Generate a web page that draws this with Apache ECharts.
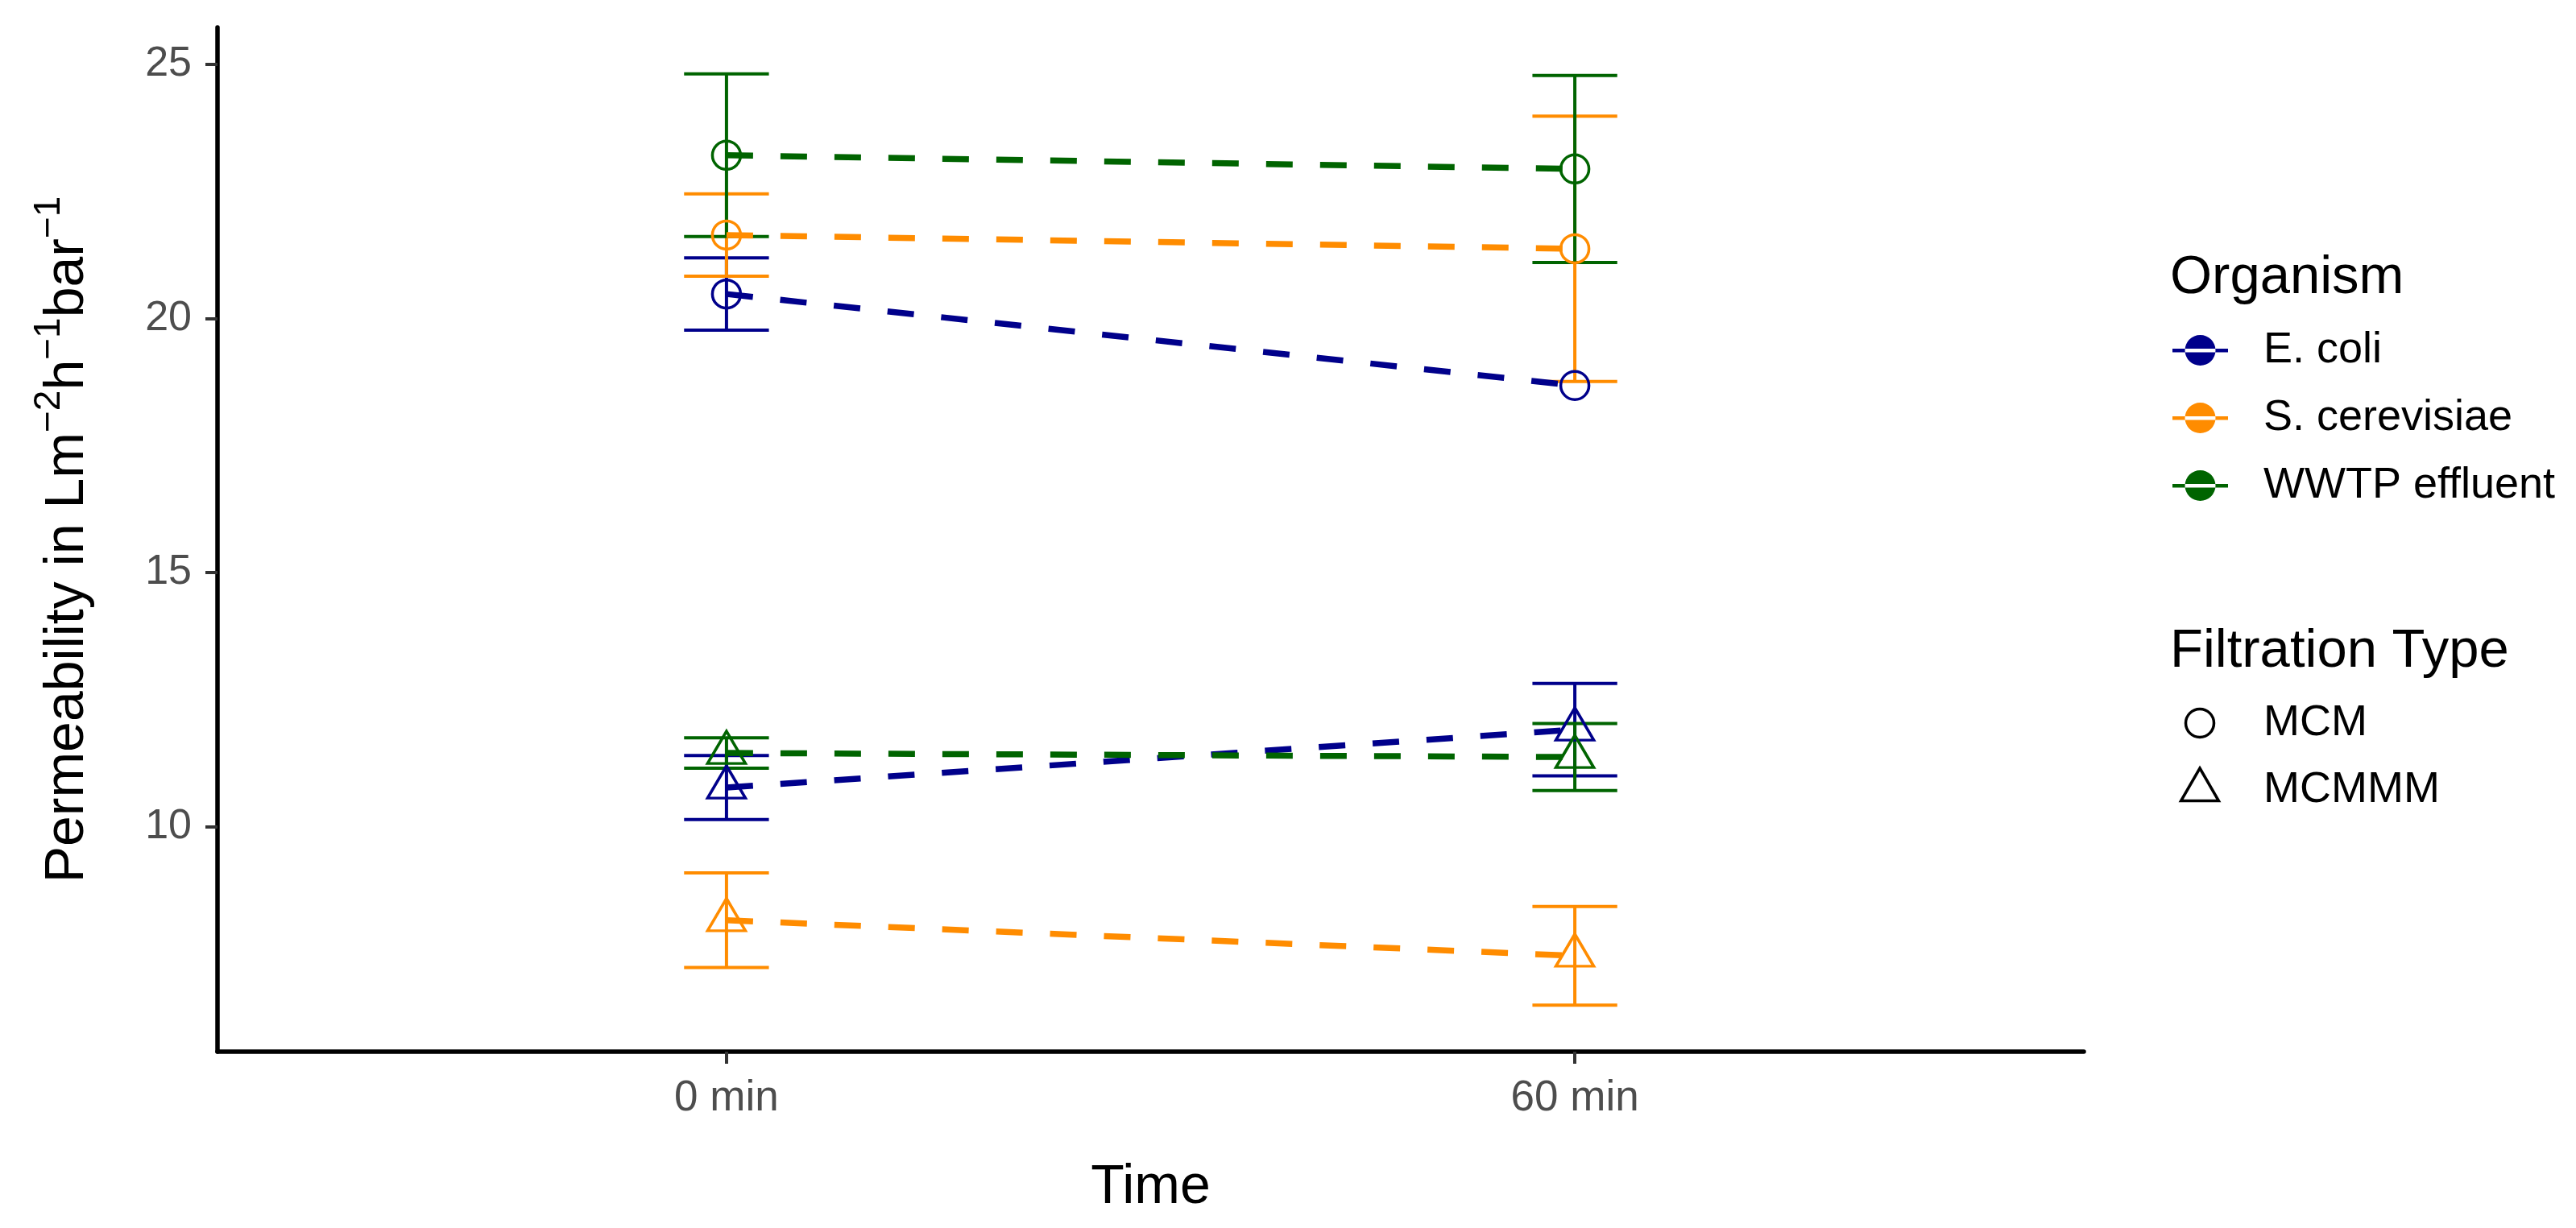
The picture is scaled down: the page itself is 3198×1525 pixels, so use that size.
<!DOCTYPE html>
<html>
<head>
<meta charset="utf-8">
<script src="https://cdn.jsdelivr.net/npm/echarts@6/dist/echarts.min.js"></script>
<style>
html, body { margin: 0; padding: 0; background: #fff; }
#chart { width: 3198px; height: 1525px; }
</style>
</head>
<body>
<div id="chart"></div>
<script>
// categories
var times = ['0 min', '60 min'];
var organisms = ['E. coli', 'S. cerevisiae', 'WWTP effluent'];
var filtrations = ['MCM', 'MCMMM'];
var colors = ['#00008B', '#FF8C00', '#006400'];

// MCM means and sd (0 min, 60 min)
var ecoliMCM = [20.48, 18.68];
var ecoliMCMsd = [0.71, null];
var scerMCM = [21.64, 21.37];
var scerMCMsd = [0.81, 2.61];
var wwtpMCM = [23.21, 22.94];
var wwtpMCMsd = [1.60, 1.84];

// MCMMM means and sd
var ecoliMCMMM = [10.77, 11.91];
var ecoliMCMMMsd = [0.63, 0.91];
var scerMCMMM = [8.16, 7.46];
var scerMCMMMsd = [0.93, 0.97];
var wwtpMCMMM = [11.45, 11.37];
var wwtpMCMMMsd = [0.30, 0.66];

var yTicks = [10, 15, 20, 25];

var font = "'Liberation Sans', Arial, sans-serif";
var chart = echarts.init(document.getElementById('chart'));

var groups = [
	{org: 0, type: 0, mean: ecoliMCM, sd: ecoliMCMsd},
	{org: 1, type: 0, mean: scerMCM, sd: scerMCMsd},
	{org: 2, type: 0, mean: wwtpMCM, sd: wwtpMCMsd},
	{org: 0, type: 1, mean: ecoliMCMMM, sd: ecoliMCMMMsd},
	{org: 1, type: 1, mean: scerMCMMM, sd: scerMCMMMsd},
	{org: 2, type: 1, mean: wwtpMCMMM, sd: wwtpMCMMMsd}
];

// y range like ggplot: data range + 5% each side
var lo = Infinity, hi = -Infinity;
groups.forEach(function (g) {
	g.mean.forEach(function (v, i) {
		var s = g.sd[i] || 0;
		lo = Math.min(lo, v - s);
		hi = Math.max(hi, v + s);
	});
});
var pad = (hi - lo) * 0.05;
var yMin = lo - pad, yMax = hi + pad;

var series = [];
// dashed lines + hollow points
groups.forEach(function (g) {
	var c = colors[g.org];
	series.push({
		type: 'line',
		name: organisms[g.org],
		data: g.mean.map(function (v, i) { return [i + 1, v]; }),
		symbol: g.type === 0 ? 'circle' : 'triangle',
		symbolSize: g.type === 0 ? 35 : [47, 40],
		symbolOffset: g.type === 0 ? [0, 0] : [0, -7],
		itemStyle: {color: 'none', borderColor: c, borderWidth: 3.5},
		lineStyle: {color: c, width: 7.5, type: [33, 34]},
		silent: true,
		animation: false
	});
});
// error bars
var capWidth = 0.1;
[0, 1, 2].forEach(function (o) {
	var rows = [];
	groups.forEach(function (g) {
		if (g.org !== o) return;
		g.mean.forEach(function (v, i) {
			if (g.sd[i] == null) return;
			rows.push([i + 1, v - g.sd[i], v + g.sd[i]]);
		});
	});
	var c = colors[o];
	series.push({
		type: 'custom',
		name: organisms[o],
		data: rows,
		encode: {x: 0, y: [1, 2]},
		silent: true,
		animation: false,
		renderItem: function (params, api) {
			var x = api.value(0);
			var pLo = api.coord([x, api.value(1)]);
			var pHi = api.coord([x, api.value(2)]);
			var half = api.coord([x + capWidth / 2, api.value(1)])[0] - pLo[0];
			var st = {stroke: c, lineWidth: 4, fill: 'none'};
			return {
				type: 'group',
				children: [
					{type: 'line', shape: {x1: pLo[0], y1: pLo[1], x2: pHi[0], y2: pHi[1]}, style: st},
					{type: 'line', shape: {x1: pLo[0] - half, y1: pLo[1], x2: pLo[0] + half, y2: pLo[1]}, style: st},
					{type: 'line', shape: {x1: pHi[0] - half, y1: pHi[1], x2: pHi[0] + half, y2: pHi[1]}, style: st}
				]
			};
		}
	});
});

// legend key: line with filled dot
var keyIcon = 'path://M0,17H69V21.6H0Z M15.5,19A19,19,0,1,0,53.5,19A19,19,0,1,0,15.5,19Z';

var option = {
	backgroundColor: '#fff',
	animation: false,
	textStyle: {fontFamily: font},
	grid: {left: 270, top: 34, right: 611, bottom: 219, containLabel: false},
	title: [
		{text: 'Organism', left: 2694, top: 312, padding: 0,
			textStyle: {fontSize: 67, fontWeight: 'normal', color: '#000', fontFamily: font}},
		{text: 'Filtration Type', left: 2694, top: 776, padding: 0,
			textStyle: {fontSize: 67, fontWeight: 'normal', color: '#000', fontFamily: font}}
	],
	legend: {
		orient: 'vertical',
		left: 2697,
		top: 408,
		padding: 0,
		itemWidth: 69,
		itemHeight: 38,
		itemGap: 30,
		icon: keyIcon,
		selectedMode: false,
		itemStyle: {borderWidth: 0},
		data: organisms.map(function (o, i) {
			return {name: o, itemStyle: {color: colors[i], borderWidth: 0}};
		}),
		textStyle: {fontSize: 54, color: '#000', fontFamily: font, lineHeight: 38, padding: [0, 0, 0, 39]}
	},
	xAxis: {
		type: 'value',
		min: 0.4,
		max: 2.6,
		axisLine: {show: true, onZero: false, lineStyle: {color: '#000', width: 5.5}},
		axisTick: {show: true, length: 15, customValues: [1, 2], lineStyle: {color: '#333', width: 4}},
		axisLabel: {
			customValues: [1, 2],
			formatter: function (v) { return times[Math.round(v) - 1]; },
			fontSize: 53, color: '#4D4D4D', margin: 32, fontFamily: font
		},
		splitLine: {show: false},
		name: 'Time',
		nameLocation: 'middle',
		nameGap: 135,
		nameTextStyle: {fontSize: 68, color: '#000', fontFamily: font}
	},
	yAxis: {
		type: 'value',
		min: yMin,
		max: yMax,
		axisLine: {show: true, lineStyle: {color: '#000', width: 5.5}},
		axisTick: {show: true, length: 15, customValues: yTicks, lineStyle: {color: '#333', width: 4}},
		axisLabel: {customValues: yTicks, fontSize: 52, color: '#4D4D4D', margin: 32, fontFamily: font},
		splitLine: {show: false},
		name: '{n|Permeability in Lm}{s|\u22122}{n|h}{s|\u22121}{n|bar}{s|\u22121}',
		nameLocation: 'middle',
		nameRotate: 90,
		nameGap: 152,
		nameTextStyle: {
			color: '#000',
			fontFamily: font,
			rich: {
				n: {fontSize: 68, lineHeight: 68, color: '#000', fontFamily: font, verticalAlign: 'bottom'},
				s: {fontSize: 46, lineHeight: 46, color: '#000', fontFamily: font, verticalAlign: 'bottom', padding: [0, 0, 34, 0]}
			}
		}
	},
	graphic: [
		{type: 'circle', shape: {cx: 2731, cy: 898, r: 17.5}, style: {fill: 'none', stroke: '#000', lineWidth: 3.5}},
		{type: 'text', x: 2810, y: 898, style: {text: filtrations[0], fontSize: 54, fontFamily: font, fill: '#000', verticalAlign: 'middle'}},
		{type: 'polygon', shape: {points: [[2731, 954], [2754.4, 994.5], [2707.6, 994.5]]}, style: {fill: 'none', stroke: '#000', lineWidth: 3.5}},
		{type: 'text', x: 2810, y: 981, style: {text: filtrations[1], fontSize: 54, fontFamily: font, fill: '#000', verticalAlign: 'middle'}}
	],
	series: series
};

chart.setOption(option);
</script>
</body>
</html>
